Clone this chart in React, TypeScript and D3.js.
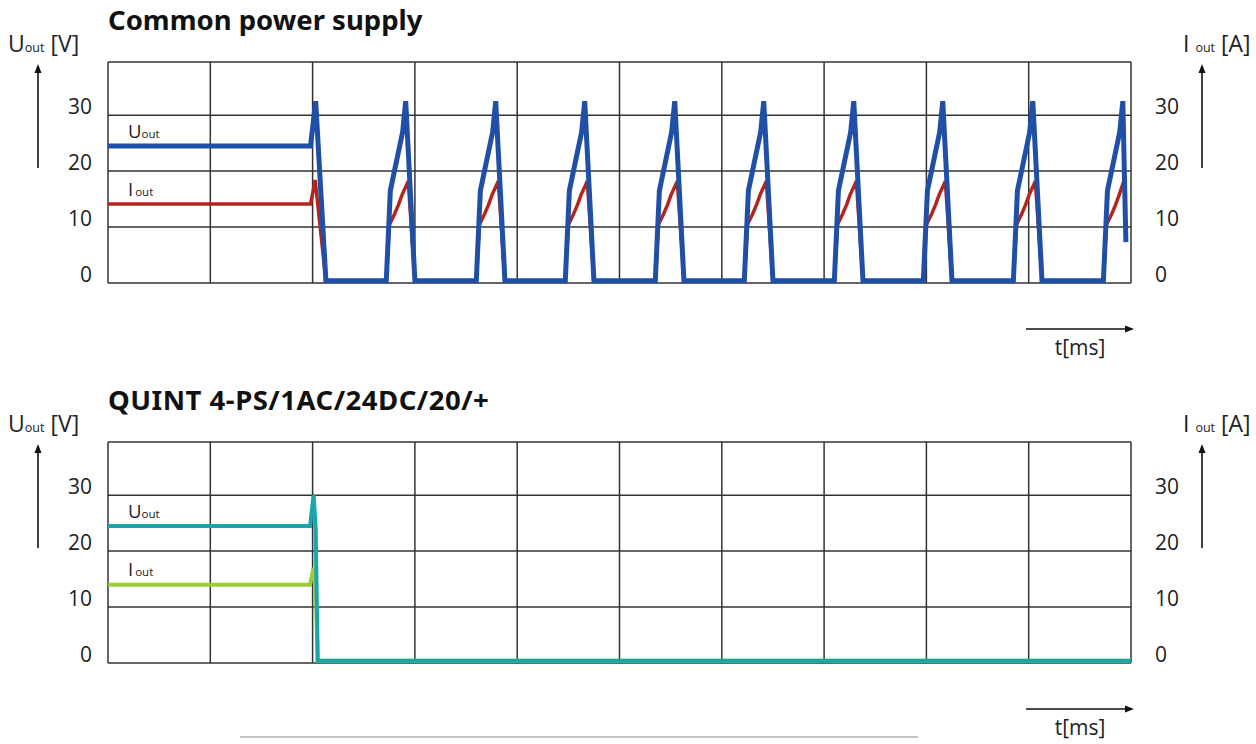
import React from 'react';
import * as d3 from 'd3';

// time axis: 10 grid columns, arbitrary ms units
const timeTicks = [0, 10, 20, 30, 40, 50, 60, 70, 80, 90, 100];
const levelTicks = [0, 10, 20, 30];
const levelMax = 39.5;

// Common power supply: hiccup mode after overload
const commonUout: [number, number][] = [
  [0, 24.5], [19.8, 24.5], [20.3, 32.5], [21.3, 0.4],
  [27.2, 0.4], [27.6, 16.5], [28.8, 27], [29.1, 32.5], [30.0, 0.4],
  [36.0, 0.4], [36.4, 16.5], [37.6, 27], [37.9, 32.5], [38.8, 0.4],
  [44.7, 0.4], [45.1, 16.5], [46.3, 27], [46.6, 32.5], [47.5, 0.4],
  [53.5, 0.4], [53.9, 16.5], [55.1, 27], [55.4, 32.5], [56.3, 0.4],
  [62.2, 0.4], [62.6, 16.5], [63.8, 27], [64.1, 32.5], [65.0, 0.4],
  [71.0, 0.4], [71.4, 16.5], [72.6, 27], [72.9, 32.5], [73.8, 0.4],
  [79.7, 0.4], [80.1, 16.5], [81.3, 27], [81.6, 32.5], [82.5, 0.4],
  [88.5, 0.4], [88.9, 16.5], [90.1, 27], [90.4, 32.5], [91.3, 0.4],
  [97.3, 0.4], [97.7, 16.5], [98.9, 27], [99.2, 32.5], [99.5, 7.3],
];

const commonIout: [number, number][] = [
  [0, 14.1], [19.8, 14.1], [20.25, 18.4], [21.3, 0.4],
  [27.2, 0.4], [27.5, 10.4], [28.0, 12.3], [28.4, 14], [28.75, 15.8], [29.35, 18.2], [30.0, 0.4],
  [36.0, 0.4], [36.3, 10.4], [36.8, 12.3], [37.2, 14], [37.55, 15.8], [38.15, 18.2], [38.8, 0.4],
  [44.7, 0.4], [45.0, 10.4], [45.5, 12.3], [45.9, 14], [46.25, 15.8], [46.85, 18.2], [47.5, 0.4],
  [53.5, 0.4], [53.8, 10.4], [54.3, 12.3], [54.7, 14], [55.05, 15.8], [55.65, 18.2], [56.3, 0.4],
  [62.2, 0.4], [62.5, 10.4], [63.0, 12.3], [63.4, 14], [63.75, 15.8], [64.35, 18.2], [65.0, 0.4],
  [71.0, 0.4], [71.3, 10.4], [71.8, 12.3], [72.2, 14], [72.55, 15.8], [73.15, 18.2], [73.8, 0.4],
  [79.7, 0.4], [80.0, 10.4], [80.5, 12.3], [80.9, 14], [81.25, 15.8], [81.85, 18.2], [82.5, 0.4],
  [88.5, 0.4], [88.8, 10.4], [89.3, 12.3], [89.7, 14], [90.05, 15.8], [90.65, 18.2], [91.3, 0.4],
  [97.3, 0.4], [97.6, 10.4], [98.1, 12.3], [98.5, 14], [98.85, 15.8], [99.3, 18.2],
];

// QUINT: short spike then switch off
const quintUout: [number, number][] = [
  [0, 24.5], [19.75, 24.5], [20.1, 30], [20.3, 24], [20.5, 0.4], [100, 0.4],
];
const quintIout: [number, number][] = [
  [0, 14], [19.75, 14], [20.1, 17], [20.3, 14], [20.5, 0.4], [100, 0.4],
];

const LABEL_FONT = '"Open Sans", "DejaVu Sans", sans-serif';
const TITLE_FONT = '"Noto Sans", "DejaVu Sans", sans-serif';
const GRID = '#333';

interface PanelProps {
  dy: number;
  title: string;
  titleSpacing: number;
  uData: [number, number][];
  iData: [number, number][];
  uColor: string;
  iColor: string;
  uWidth: number;
  iWidth: number;
}

const Arrow = ({ x1, y1, x2, y2 }: { x1: number; y1: number; x2: number; y2: number }) => {
  const ang = Math.atan2(y2 - y1, x2 - x1);
  const len = 9, half = 3.5;
  const bx = x2 - len * Math.cos(ang), by = y2 - len * Math.sin(ang);
  const px = -Math.sin(ang) * half, py = Math.cos(ang) * half;
  return (
    <g>
      <line x1={x1} y1={y1} x2={bx} y2={by} stroke="#111" strokeWidth={1.6} />
      <path d={`M${x2},${y2}L${bx + px},${by + py}L${bx - px},${by - py}Z`} fill="#111" />
    </g>
  );
};

const Panel: React.FC<PanelProps> = ({ dy, title, titleSpacing, uData, iData, uColor, iColor, uWidth, iWidth }) => {
  const x = d3.scaleLinear().domain([0, 100]).range([108, 1131]);
  const y = d3.scaleLinear().domain([0, levelMax]).range([283, 62]);
  const line = d3.line<[number, number]>().x(d => x(d[0])).y(d => y(d[1]));

  return (
    <g transform={`translate(0,${dy})`}>
      <text x={108} y={30} fontFamily={TITLE_FONT} fontWeight={700} fontSize={27.5}
        letterSpacing={titleSpacing} fill="#111">{title}</text>

      {/* axis titles */}
      <text x={8} y={52} fontFamily={LABEL_FONT} fontSize={23} fill="#222">
        U<tspan fontSize={12.5}>out</tspan> [V]
      </text>
      <text x={1183} y={52} fontFamily={LABEL_FONT} fontSize={23} fill="#222">
        I <tspan fontSize={12.5}>out</tspan> [A]
      </text>
      <Arrow x1={38} y1={168} x2={38} y2={64} />
      <Arrow x1={1202} y1={168} x2={1202} y2={64} />

      {/* grid */}
      {levelTicks.map(v => (
        <line key={'h' + v} x1={x(0)} x2={x(100)} y1={y(v)} y2={y(v)} stroke={GRID} strokeWidth={1.5} />
      ))}
      {timeTicks.map(t => (
        <line key={'v' + t} x1={x(t)} x2={x(t)} y1={y(0)} y2={y(levelMax)} stroke={GRID} strokeWidth={1.5} />
      ))}
      <line x1={x(0)} x2={x(100)} y1={y(levelMax)} y2={y(levelMax)} stroke={GRID} strokeWidth={1.5} />

      {/* tick labels */}
      {levelTicks.map(v => (
        <g key={'l' + v} fontFamily={LABEL_FONT} fontSize={21} fill="#222">
          <text x={92} y={y(v) - 1} textAnchor="end">{v}</text>
          <text x={1155} y={y(v) - 1}>{v}</text>
        </g>
      ))}

      {/* series */}
      <path d={line(iData) || ''} fill="none" stroke={iColor} strokeWidth={iWidth} />
      <path d={line(uData) || ''} fill="none" stroke={uColor} strokeWidth={uWidth} />

      {/* in-plot labels */}
      <text x={128} y={138} fontFamily={LABEL_FONT} fontSize={18.5} fill="#222">
        U<tspan fontSize={11.5}>out</tspan>
      </text>
      <text x={128} y={196} fontFamily={LABEL_FONT} fontSize={18.5} fill="#222">
        I<tspan fontSize={11.5} dx={2}>out</tspan>
      </text>

      {/* time arrow */}
      <Arrow x1={1026} y1={329} x2={1134} y2={329} />
      <text x={1080} y={355} textAnchor="middle" fontFamily={LABEL_FONT} fontSize={21} fill="#222">t[ms]</text>
    </g>
  );
};

export default function App() {
  return (
    <div style={{ position: 'absolute', left: 0, top: 0 }}>
      <svg width={1256} height={744} style={{ display: 'block', background: '#fff' }}>
        <Panel dy={0} title="Common power supply" titleSpacing={0} uData={commonUout} iData={commonIout}
          uColor="#1f4fa6" iColor="#b3261e" uWidth={5} iWidth={3.5} />
        <Panel dy={380} title="QUINT 4-PS/1AC/24DC/20/+" titleSpacing={0.5} uData={quintUout} iData={quintIout}
          uColor="#1aa6a7" iColor="#9acb3c" uWidth={4} iWidth={4} />
        <line x1={240} x2={918} y1={737} y2={737} stroke="#888" strokeWidth={1} />
      </svg>
    </div>
  );
}
